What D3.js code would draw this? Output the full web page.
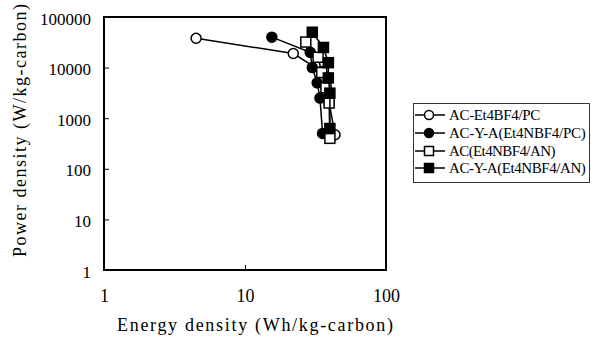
<!DOCTYPE html>
<html>
<head>
<meta charset="utf-8">
<script src="https://cdn.jsdelivr.net/npm/d3@7/dist/d3.min.js"></script>
<style>
  html, body { margin: 0; padding: 0; background: #fff; }
  svg { display: block; }
</style>
</head>
<body>
<svg id="chart" width="599" height="340"></svg>
<script>
// Ragone plot: power density vs energy density for four electrode/electrolyte systems
const seriesNames = ["AC-Et4BF4/PC", "AC-Y-A(Et4NBF4/PC)", "AC(Et4NBF4/AN)", "AC-Y-A(Et4NBF4/AN)"];
const seriesMarkers = ["openCircle", "filledCircle", "openSquare", "filledSquare"];

// energy density (Wh/kg-carbon)
const energyAcPc   = [4.5, 22, 35, 37.5, 39.5, 43.5];
const energyAcyaPc = [15.5, 29, 30, 32.5, 34, 35.5];
const energyAcAn   = [27, 33, 35, 37.5, 39.5, 40];
const energyAcyaAn = [30, 36, 39, 39, 40, 40];

// power density (W/kg-carbon)
const powerAcPc   = [38000, 19000, 8400, 4100, 2050, 470];
const powerAcyaPc = [40000, 20000, 10000, 5000, 2500, 500];
const powerAcAn   = [32000, 16000, 8000, 4000, 2000, 400];
const powerAcyaAn = [50000, 25000, 12500, 6250, 3125, 625];

const xTicks = [1, 10, 100];
const yTicks = [1, 10, 100, 1000, 10000, 100000];

const FONT = '"Liberation Serif", "Times New Roman", "DejaVu Serif", serif';

const energySets = [energyAcPc, energyAcyaPc, energyAcAn, energyAcyaAn];
const powerSets = [powerAcPc, powerAcyaPc, powerAcAn, powerAcyaAn];
const series = seriesNames.map((name, i) => ({
  name,
  marker: seriesMarkers[i],
  points: energySets[i].map((e, j) => ({ e, p: powerSets[i][j] }))
}));

const svg = d3.select("#chart");
const plot = { left: 104, right: 386, top: 17, bottom: 270 };

const x = d3.scaleLog().domain([1, 100]).range([plot.left, plot.right]);
const y = d3.scaleLog().domain([1, 100000]).range([plot.bottom, plot.top]);

// axes with inward ticks
const yAxis = svg.append("g")
  .attr("transform", `translate(${plot.left},0)`)
  .call(d3.axisLeft(y).tickValues(yTicks).tickFormat(d3.format("d")).tickSize(-5).tickPadding(13));
yAxis.attr("font-family", FONT).attr("font-size", 17);
yAxis.select(".domain").remove();
yAxis.selectAll("text").attr("dy", "0.42em").attr("fill", "#000");
yAxis.selectAll("line").attr("stroke", "#000").attr("stroke-width", 1);

const xAxis = svg.append("g")
  .attr("transform", `translate(0,${plot.bottom})`)
  .call(d3.axisBottom(x).tickValues(xTicks).tickFormat(d3.format("d")).tickSize(-5).tickPadding(19));
xAxis.attr("font-family", FONT).attr("font-size", 18);
xAxis.select(".domain").remove();
xAxis.selectAll("text").attr("fill", "#000");
xAxis.selectAll("line").attr("stroke", "#000").attr("stroke-width", 1);

// plot frame
svg.append("rect")
  .attr("x", plot.left).attr("y", plot.top)
  .attr("width", plot.right - plot.left).attr("height", plot.bottom - plot.top)
  .attr("fill", "none").attr("stroke", "#000").attr("stroke-width", 2);

// axis titles
svg.append("text")
  .attr("x", 117).attr("y", 331)
  .attr("font-family", FONT).attr("font-size", 18)
  .attr("textLength", 276).attr("lengthAdjust", "spacing")
  .text("Energy density (Wh/kg-carbon)");

svg.append("text")
  .attr("transform", "translate(26,257) rotate(-90)")
  .attr("font-family", FONT).attr("font-size", 18)
  .attr("textLength", 253).attr("lengthAdjust", "spacing")
  .text("Power density (W/kg-carbon)");

// marker drawing helper
function drawMarker(g, type, cx, cy, size) {
  const filled = type.startsWith("filled");
  if (type.endsWith("Circle")) {
    g.append("circle").attr("cx", cx).attr("cy", cy).attr("r", size / 2)
      .attr("fill", filled ? "#000" : "#fff").attr("stroke", "#000").attr("stroke-width", 1.5);
  } else {
    g.append("rect").attr("x", cx - size / 2).attr("y", cy - size / 2)
      .attr("width", size).attr("height", size)
      .attr("fill", filled ? "#000" : "#fff").attr("stroke", "#000").attr("stroke-width", 1.5);
  }
}

const line = d3.line().x(d => x(d.e)).y(d => y(d.p));

series.forEach(s => {
  const g = svg.append("g");
  g.append("path").attr("d", line(s.points))
    .attr("fill", "none").attr("stroke", "#000").attr("stroke-width", 1.5);
  s.points.forEach(d => drawMarker(g, s.marker, x(d.e), y(d.p), 10));
});

// legend
const legend = svg.append("g");
legend.append("rect")
  .attr("x", 413.5).attr("y", 103.5).attr("width", 176).attr("height", 79)
  .attr("fill", "#fff").attr("stroke", "#333").attr("stroke-width", 1);
const rowY = [115, 133, 151, 168];
series.forEach((s, i) => {
  const ly = rowY[i];
  legend.append("line").attr("x1", 415).attr("x2", 445).attr("y1", ly).attr("y2", ly)
    .attr("stroke", "#000").attr("stroke-width", 1.5);
  drawMarker(legend, s.marker, 429, ly, 9);
  legend.append("text")
    .attr("x", 449).attr("y", ly).attr("dy", "0.36em")
    .attr("font-family", FONT).attr("font-size", 15)
    .attr("textLength", s.name.length * 7.6).attr("lengthAdjust", "spacing")
    .text(s.name);
});
</script>
</body>
</html>
